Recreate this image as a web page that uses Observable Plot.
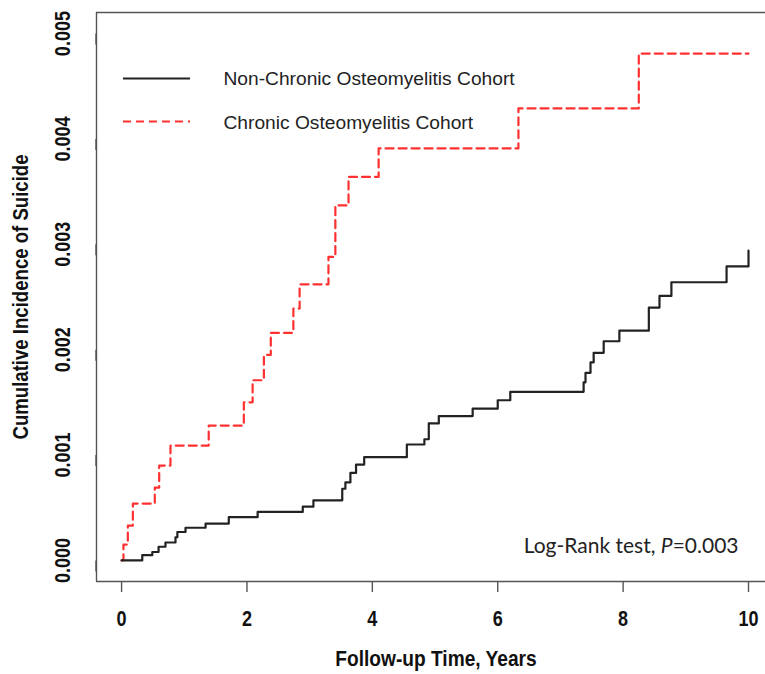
<!DOCTYPE html>
<html><head><meta charset="utf-8">
<script src="https://cdn.jsdelivr.net/npm/d3@7"></script>
<script src="https://cdn.jsdelivr.net/npm/@observablehq/plot@0.6"></script>
<style>body{margin:0;background:#fff} #chart{width:765px;height:674px}</style>
</head><body><div id="chart"></div>
<script>
// ---- data ----
const seriesNames = ["Non-Chronic Osteomyelitis Cohort", "Chronic Osteomyelitis Cohort"];
const nonTimes = [0, 0.33, 0.49, 0.59, 0.70, 0.86, 0.89, 1.02, 1.34, 1.71, 2.17, 2.89, 3.06, 3.52, 3.57, 3.65, 3.74, 3.87, 4.55, 4.83, 4.90, 5.06, 5.60, 6.00, 6.20, 7.37, 7.40, 7.48, 7.53, 7.69, 7.94, 8.41, 8.58, 8.77, 9.65, 10.0];
const nonValues = [0, 0.00005, 0.00008, 0.00013, 0.00017, 0.00022, 0.00027, 0.00031, 0.00035, 0.00041, 0.00046, 0.00051, 0.00057, 0.00068, 0.00074, 0.00083, 0.00091, 0.00098, 0.00110, 0.00115, 0.00130, 0.00137, 0.00144, 0.00152, 0.00160, 0.00169, 0.00178, 0.00188, 0.00197, 0.00208, 0.00218, 0.00240, 0.00251, 0.00264, 0.00279, 0.00294];
const chrTimes = [0, 0.03, 0.10, 0.18, 0.53, 0.60, 0.78, 1.39, 1.95, 2.09, 2.27, 2.38, 2.74, 2.84, 3.30, 3.41, 3.62, 4.10, 6.33, 8.25, 10.0];
const chrValues = [0, 0.00015, 0.00033, 0.00054, 0.00069, 0.00090, 0.00109, 0.00128, 0.00150, 0.00171, 0.00195, 0.00216, 0.00239, 0.00262, 0.00288, 0.00337, 0.00364, 0.00391, 0.00429, 0.00481, 0.00481];
const xTicks = [0, 2, 4, 6, 8, 10];
const yTicks = [0, 0.001, 0.002, 0.003, 0.004, 0.005];
const xTitle = "Follow-up Time, Years";
const yTitle = "Cumulative Incidence of Suicide";
const testNote = "Log-Rank test, P=0.003";

// ---- build ----
const nonData = nonTimes.map((t, i) => ({t, v: nonValues[i]}));
const chrData = chrTimes.map((t, i) => ({t, v: chrValues[i]}));
const boldFont = "'Liberation Sans', Arial, sans-serif";
const RED = "#ff3030", BLACK = "#222", AXIS = "#555";

const chart = Plot.plot({
  width: 765, height: 674,
  marginLeft: 96, marginRight: 0, marginTop: 12, marginBottom: 93,
  x: {domain: [-0.4, 10.271]},
  y: {domain: [-0.0002, 0.0052]},
  style: {background: "white", fontFamily: boldFont, color: "#222"},
  marks: [
    Plot.ruleX([-0.4], {stroke: AXIS, strokeWidth: 1.4}),
    Plot.ruleY([-0.0002, 0.0052], {stroke: AXIS, strokeWidth: 1.4}),
    Plot.axisX({ticks: xTicks, tickSize: 11, tickPadding: 18, stroke: AXIS, strokeWidth: 1.4,
      fontSize: 22, fontWeight: "bold", fill: "#111", label: null}),
    Plot.axisY({ticks: yTicks, tickFormat: d3.format(".3f"), tickSize: 11, tickPadding: 23,
      stroke: AXIS, strokeWidth: 1.4, rotate: -90, textAnchor: "middle",
      fontSize: 22, fontWeight: "bold", fill: "#111", label: null}),
    Plot.text([xTitle], {frameAnchor: "bottom", dx: 5, dy: 84, fontSize: 22, fontWeight: "bold", fill: "#111"}),
    Plot.text([yTitle], {frameAnchor: "left", dx: -76, rotate: -90, textAnchor: "middle",
      fontSize: 22, fontWeight: "bold", fill: "#111"}),
    Plot.line(chrData, {x: "t", y: "v", curve: "step-after", stroke: RED, strokeWidth: 2.2, strokeDasharray: "8,5"}),
    Plot.line(nonData, {x: "t", y: "v", curve: "step-after", stroke: BLACK, strokeWidth: 2.2}),
    // legend
    Plot.ruleY([seriesNames[0]], {y: () => 0.004573, x1: 0.03, x2: 1.10, stroke: BLACK, strokeWidth: 2}),
    Plot.ruleY([seriesNames[1]], {y: () => 0.004165, x1: 0.03, x2: 1.10, stroke: RED, strokeWidth: 2, strokeDasharray: "8,5"}),
    Plot.text(seriesNames, {frameAnchor: "top-left", text: d => d,
      fontFamily: "'Liberation Sans', Arial, sans-serif", fontSize: 19.2, fill: "#222", textAnchor: "start"}),
    Plot.text([testNote], {frameAnchor: "bottom-right", dx: -27, dy: -29, textAnchor: "end",
      fontFamily: "Lato, 'Open Sans', sans-serif", fontSize: 21, fill: "#222"})
  ]
});
document.getElementById("chart").appendChild(chart);

const svg = d3.select(chart);
// emulate a condensed bold face (as in the reference) by horizontal scaling about each anchor
function narrow(el, s) {
  const tr = el.getAttribute("transform") || "";
  el.setAttribute("transform", `${tr} scale(${s},1)`);
}
svg.selectAll('g[aria-label="x-axis tick label"] text').each(function() { narrow(this, 0.82); });
svg.selectAll('g[aria-label="y-axis tick label"] text').each(function() { narrow(this, 0.82); });
svg.selectAll("text").each(function() {
  const t = this.textContent;
  if (t === xTitle) narrow(this, 0.87);
  if (t === yTitle) narrow(this, 0.845);
  if (t === seriesNames[0]) d3.select(this).attr("y", null).attr("x", null).attr("transform", "translate(223,78)").attr("dy", "0.35em");
  if (t === seriesNames[1]) d3.select(this).attr("y", null).attr("x", null).attr("transform", "translate(223,122)").attr("dy", "0.35em");
  if (t === testNote) {
    const el = d3.select(this);
    el.text(null);
    el.append("tspan").text("Log-Rank test, ");
    el.append("tspan").attr("font-style", "italic").text("P");
    el.append("tspan").text("=0.003");
  }
});
</script>
</body></html>
